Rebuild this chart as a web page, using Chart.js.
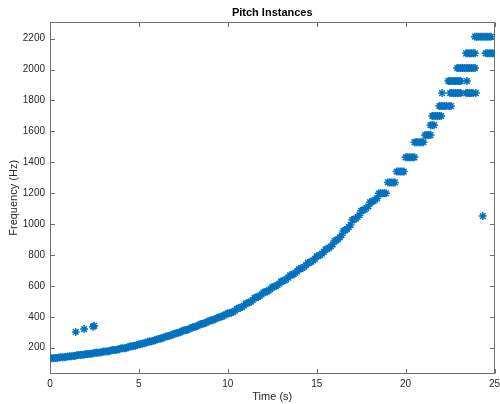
<!DOCTYPE html>
<html><head><meta charset="utf-8">
<script src="https://cdn.jsdelivr.net/npm/chart.js@4"></script>
<style>html,body{margin:0;padding:0;background:#fff}</style>
</head><body>
<canvas id="c" width="500" height="404"></canvas>
<script>
// ---- data ----
const xTickValues = [0, 5, 10, 15, 20, 25];
const yTickValues = [200, 400, 600, 800, 1000, 1200, 1400, 1600, 1800, 2000, 2200];

// main sweep (time in s, pitch in Hz)
const sweepTimes = [
  0.0,0.1,0.2,0.3,0.4, 0.5,0.6,0.7,0.8,0.9, 1.0,1.1,1.2,1.3,1.4, 1.5,1.6,1.7,1.8,1.9,
  2.0,2.1,2.2,2.3,2.4, 2.5,2.6,2.7,2.8,2.9, 3.0,3.1,3.2,3.3,3.4, 3.5,3.6,3.7,3.8,3.9,
  4.0,4.1,4.2,4.3,4.4, 4.5,4.6,4.7,4.8,4.9, 5.0,5.1,5.2,5.3,5.4, 5.5,5.6,5.7,5.8,5.9,
  6.0,6.1,6.2,6.3,6.4, 6.5,6.6,6.7,6.8,6.9, 7.0,7.1,7.2,7.3,7.4, 7.5,7.6,7.7,7.8,7.9,
  8.0,8.1,8.2,8.3,8.4, 8.5,8.6,8.7,8.8,8.9, 9.0,9.1,9.2,9.3,9.4, 9.5,9.6,9.7,9.8,9.9,
  10.0,10.1,10.2,10.3,10.4, 10.5,10.6,10.7,10.8,10.9, 11.0,11.1,11.2,11.3,11.4, 11.5,11.6,11.7,11.8,11.9,
  12.0,12.1,12.2,12.3,12.4, 12.5,12.6,12.7,12.8,12.9, 13.0,13.1,13.2,13.3,13.4, 13.5,13.6,13.7,13.8,13.9,
  14.0,14.1,14.2,14.3,14.4, 14.5,14.6,14.7,14.8,14.9, 15.0,15.1,15.2,15.3,15.4, 15.5,15.6,15.7,15.8,15.9,
  16.0,16.1,16.2,16.3,16.4, 16.5,16.6,16.7,16.8,16.9, 17.0,17.1,17.2,17.3,17.4, 17.5,17.6,17.7,17.8,17.9,
  18.0,18.1,18.2,18.3,18.4, 18.5,18.6,18.7,18.8,18.9, 19.0,19.1,19.2,19.3,19.4, 19.5,19.6,19.7,19.8,19.9,
  20.0,20.1,20.2,20.3,20.4,20.5
];
const sweepFreqs = [
  132,132,132,133,134, 137,138,138,139,140, 144,145,145,146,147, 152,153,153,154,155,
  159,160,160,161,163, 167,168,168,169,171, 175,176,176,178,180, 185,186,186,188,191,
  196,197,197,199,203, 209,210,211,213,217, 223,225,226,229,233, 238,240,241,244,249,
  254,256,258,262,267, 272,274,276,281,286, 291,293,295,300,306, 311,313,315,320,326,
  332,334,337,342,348, 354,356,359,364,370, 376,378,381,386,392, 398,400,403,409,416,
  423,425,427,432,440, 452,455,458,464,472, 485,488,492,499,508, 522,525,529,536,545,
  557,560,564,571,580, 592,595,599,606,615, 629,632,636,644,654, 669,672,676,684,694,
  709,712,716,724,734, 749,752,757,765,775, 792,795,800,809,820, 836,840,846,856,868,
  890,895,902,914,928, 955,960,968,980,995, 1026,1030,1036,1046,1058, 1086,1090,1095,1104,1115,
  1141,1145,1150,1158,1168, 1199,1199,1199,1199,1199, 1270,1270,1270,1270,1270, 1340,1340,1340,1340,1340,
  1432,1432,1432,1432,1432,1432
];

// upper clusters (time in s, pitch in Hz)
const upperTimes = [
  20.5,20.6,20.7,20.8,20.9,21.0,
  21.1,21.2,21.3,21.4,
  21.4,21.5,21.6,
  21.5,21.6,21.7,21.8,21.9,22.0,
  21.9,22.0,22.1,22.2,22.3,22.45,22.55,
  22.05,22.5,22.6,22.7,22.8,22.9,23.0,23.1,23.4,23.5,23.6,23.7,23.8,23.95,
  22.4,22.5,22.6,22.7,22.8,22.9,23.0,23.1,23.45,
  22.9,23.0,23.1,23.2,23.3,23.4,23.5,23.6,23.7,23.8,23.9,
  23.4,23.5,23.6,23.7,23.8,23.9,24.5,24.6,24.7,24.8,24.9,25.0,
  23.9,24.0,24.1,24.2,24.3,24.4,24.5,24.6,24.7,24.8
];
const upperFreqs = [
  1530,1530,1530,1530,1530,1530,
  1576,1576,1576,1576,
  1640,1640,1640,
  1700,1700,1700,1700,1700,1700,
  1764,1764,1764,1764,1764,1764,1764,
  1848,1848,1848,1848,1848,1848,1848,1848,1848,1848,1848,1848,1848,1848,
  1926,1926,1926,1926,1926,1926,1926,1926,1926,
  2010,2010,2010,2010,2010,2010,2010,2010,2010,2010,2010,
  2105,2105,2105,2105,2105,2105,2105,2105,2105,2105,2105,2105,
  2213,2213,2213,2213,2213,2213,2213,2213,2213,2213
];

// stray detections
const strayTimes = [1.45, 1.92, 2.42, 2.48, 24.34];
const strayFreqs = [302, 321, 336, 342, 1052];

// ---- build chart ----
const allTimes = sweepTimes.concat(upperTimes, strayTimes);
const allFreqs = sweepFreqs.concat(upperFreqs, strayFreqs);
const points = allTimes.map((t, i) => ({x: t, y: allFreqs[i]}));

const FONT = "'Liberation Sans', Arial, Helvetica, sans-serif";
const AXIS_COLOR = '#262626';
const LINE_COLOR = '#707070';

const framePlugin = {
  id: 'frame',
  beforeDatasetsDraw(chart) {
    const {ctx, chartArea: a, scales: {x, y}} = chart;
    const L = Math.round(a.left) + 0.5, R = Math.round(a.right) - 0.5;
    const T = Math.round(a.top) + 0.5, B = Math.round(a.bottom) - 0.5;
    const tl = 4.5;
    ctx.save();
    ctx.strokeStyle = LINE_COLOR;
    ctx.lineWidth = 1;
    ctx.strokeRect(L, T, R - L, B - T);
    ctx.beginPath();
    xTickValues.forEach(v => {
      const px = Math.round(x.getPixelForValue(v)) + 0.5;
      ctx.moveTo(px, B); ctx.lineTo(px, B - tl);
      ctx.moveTo(px, T); ctx.lineTo(px, T + tl);
    });
    yTickValues.forEach(v => {
      const py = Math.round(y.getPixelForValue(v)) + 0.5;
      ctx.moveTo(L, py); ctx.lineTo(L + tl, py);
      ctx.moveTo(R, py); ctx.lineTo(R - tl, py);
    });
    ctx.stroke();
    ctx.restore();
  }
};

new Chart(document.getElementById('c'), {
  type: 'scatter',
  data: {
    datasets: [{
      data: points,
      pointStyle: 'star',
      radius: 4,
      hoverRadius: 4,
      borderWidth: 1.5,
      borderColor: '#0072BD',
      backgroundColor: '#0072BD'
    }]
  },
  options: {
    responsive: false,
    animation: false,
    events: [],
    layout: {padding: {left: 0, right: 3.3, top: 0, bottom: 0}},
    plugins: {
      legend: {display: false},
      tooltip: {enabled: false},
      title: {
        display: true,
        fullSize: false,
        text: 'Pitch Instances',
        color: '#000',
        font: {family: FONT, size: 11, weight: 'bold'},
        padding: {top: 6.5, bottom: 2.3}
      }
    },
    scales: {
      x: {
        type: 'linear',
        min: 0, max: 25,
        afterBuildTicks: s => { s.ticks = xTickValues.map(v => ({value: v})); },
        afterFit: s => { s.height = 30.3; s.paddingLeft = 0; s.paddingRight = 0; },
        grid: {display: false, drawTicks: false},
        border: {display: false},
        ticks: {color: AXIS_COLOR, font: {family: FONT, size: 10}, padding: 5, maxRotation: 0, autoSkip: false,
                callback: v => String(v)},
        title: {display: true, text: 'Time (s)', color: AXIS_COLOR, font: {family: FONT, size: 11}, padding: {top: 0, bottom: 0}}
      },
      y: {
        type: 'linear',
        min: 32, max: 2308,
        afterBuildTicks: s => { s.ticks = yTickValues.map(v => ({value: v})); },
        afterFit: s => { s.width = 50; s.paddingTop = 0; s.paddingBottom = 0; },
        grid: {display: false, drawTicks: false},
        border: {display: false},
        ticks: {color: AXIS_COLOR, font: {family: FONT, size: 10}, padding: 5, autoSkip: false,
                callback: v => String(v)},
        title: {display: true, text: 'Frequency (Hz)', color: AXIS_COLOR, font: {family: FONT, size: 11}, padding: {top: 7.5, bottom: 0}}
      }
    }
  },
  plugins: [framePlugin]
});
</script>
</body></html>
